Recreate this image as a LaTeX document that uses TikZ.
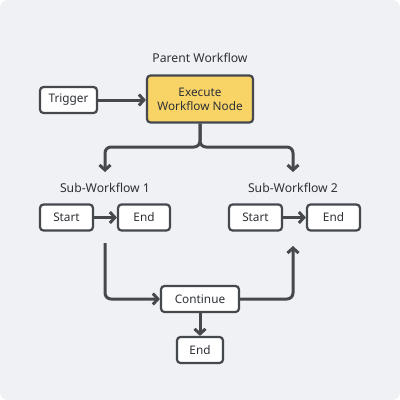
\documentclass[tikz,border=0pt]{standalone}
\usepackage{fontspec}
\setmainfont{Noto Sans}
\usetikzlibrary{arrows.meta,calc}
\definecolor{bgc}{HTML}{F0F1F4}
\definecolor{ink}{HTML}{45484D}
\definecolor{txt}{HTML}{2E3136}
\definecolor{yel}{HTML}{F8D467}
\tikzset{
  box/.style={draw=ink, line width=2.2pt, rounded corners=3.5pt, fill=white, font=\fontsize{11.8}{14}\selectfont, text=txt, inner sep=0pt, align=center},
  lbl/.style={font=\fontsize{12.2}{14}\selectfont, text=txt},
  conn/.style={draw=ink, line width=3pt, rounded corners=6pt, -{Straight Barb[length=5pt,width=11pt,line width=3pt]}}
}
\begin{document}
\begin{tikzpicture}[x=1pt,y=-1pt]
\useasboundingbox (0,0) rectangle (400,400);
\fill[bgc, rounded corners=8pt] (0,0) rectangle (400,400);

\node[lbl] (pw) at (200,58) {Parent Workflow};
\node[box, fill=yel, minimum width=106pt, minimum height=47pt] (exec) at (200,99) {Execute\\Workflow Node};
\node[box, minimum width=57pt, minimum height=26pt] (trig) at (68.5,100) {Trigger};
\draw[conn] (trig.east) -- (trig.east -| exec.west);

\node[lbl] (sw1) at (105,188) {Sub-Workflow 1};
\node[lbl] (sw2) at (293,188) {Sub-Workflow 2};

\node[box, minimum width=53pt, minimum height=26pt] (s1) at (66.5,217.5) {Start};
\node[box, minimum width=52pt, minimum height=26pt] (e1) at (144,217.5) {End};
\node[box, minimum width=53pt, minimum height=26pt] (s2) at (255.5,217.5) {Start};
\node[box, minimum width=53pt, minimum height=26pt] (e2) at (333.5,217.5) {End};
\draw[conn] (s1.east) -- (e1.west);
\draw[conn] (s2.east) -- (e2.west);

\coordinate (bL) at (105,172);
\coordinate (bR) at (293,172);
\draw[conn] (exec.south) |- ($(bL)+(0,-25)$) -- (bL);
\draw[conn] (exec.south) |- ($(bR)+(0,-25)$) -- (bR);

\node[box, minimum width=78pt, minimum height=26pt] (cont) at (200,299) {Continue};
\node[box, minimum width=46pt, minimum height=26pt] (e3) at (200,350) {End};

\coordinate (d1) at (105,243);
\coordinate (u2) at (293,246);
\draw[conn] (d1) |- (cont.west);
\draw[conn] (cont.east) -| (u2);
\draw[conn] (cont.south) -- (e3.north);
\end{tikzpicture}
\end{document}
